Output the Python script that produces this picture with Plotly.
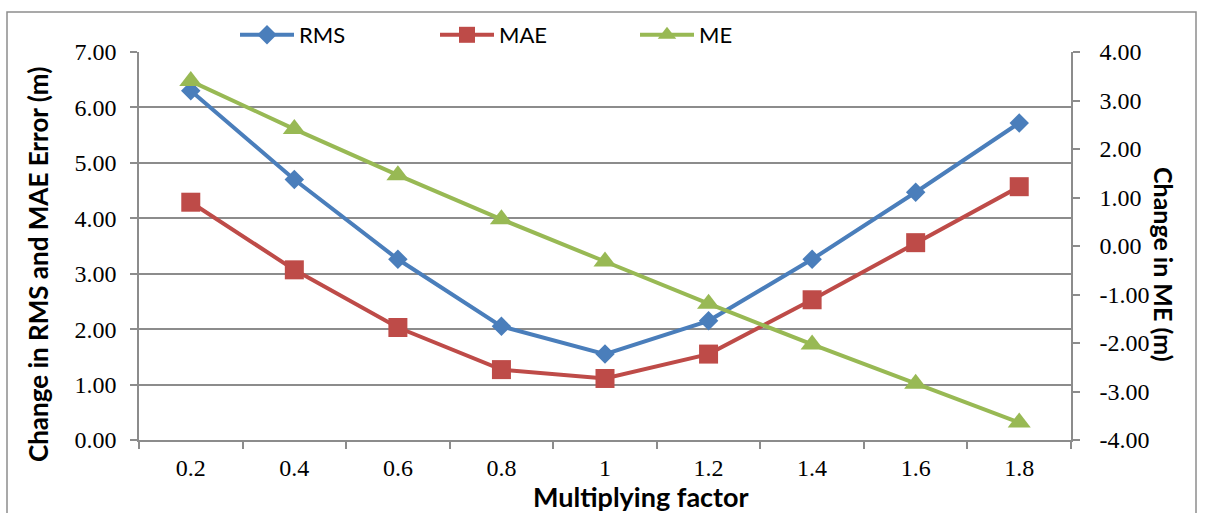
import plotly.graph_objects as go

# Multiplying factor applied to the input, and the resulting error changes
factors = ["0.2", "0.4", "0.6", "0.8", "1", "1.2", "1.4", "1.6", "1.8"]
rms = [6.30, 4.70, 3.26, 2.05, 1.55, 2.15, 3.26, 4.47, 5.72]
mae = [4.29, 3.07, 2.03, 1.27, 1.11, 1.55, 2.53, 3.56, 4.57]
me = [3.40, 2.41, 1.46, 0.55, -0.32, -1.19, -2.03, -2.84, -3.64]

left_ticks = [0, 1, 2, 3, 4, 5, 6, 7]
right_ticks = [-4, -3, -2, -1, 0, 1, 2, 3, 4]

BLUE = "#4A7EBB"
RED = "#BE4B48"
GREEN = "#98B954"
GRID = "#8C8C8C"

W, H = 1208, 513
ML, MR, MT, MB = 139, 137, 52, 73

fig = go.Figure()
fig.add_trace(go.Scatter(
    x=factors, y=rms, name="RMS", mode="lines+markers",
    line=dict(color=BLUE, width=4),
    marker=dict(symbol="diamond", size=15, color=BLUE),
))
fig.add_trace(go.Scatter(
    x=factors, y=mae, name="MAE", mode="lines+markers",
    line=dict(color=RED, width=4),
    marker=dict(symbol="square", size=19, color=RED),
))
fig.add_trace(go.Scatter(
    x=factors, y=me, name="ME", mode="lines+markers", yaxis="y2",
    line=dict(color=GREEN, width=4),
    marker=dict(symbol="triangle-up", size=20, color=GREEN),
))

tick_font = dict(family="Liberation Serif", size=24, color="#000000")
title_font = dict(family="Lato", size=26, color="#000000")

fig.update_layout(
    width=W, height=H,
    margin=dict(l=ML, r=MR, t=MT, b=MB, pad=0),
    paper_bgcolor="white", plot_bgcolor="white",
    showlegend=True,
    legend=dict(
        orientation="h", x=(235 - ML) / (W - ML - MR), xanchor="left",
        y=(H - MB - 35) / (H - MT - MB), yanchor="middle",
        font=dict(family="Lato", size=22, color="#000000"),
        itemwidth=54, entrywidth=131, entrywidthmode="pixels",
        bgcolor="rgba(0,0,0,0)",
    ),
    xaxis=dict(
        type="category", range=[-0.5, 8.5], tickson="boundaries",
        showgrid=False, showline=True, linecolor=GRID, linewidth=1.5,
        ticks="outside", ticklen=7, tickcolor=GRID, tickwidth=1.5,
        tickfont=tick_font, ticklabelstandoff=5, zeroline=False,
    ),
    yaxis=dict(
        range=[0, 7], tickvals=left_ticks,
        ticktext=[f"{v:.2f}" for v in left_ticks],
        showgrid=True, gridcolor=GRID, gridwidth=1.5,
        showline=True, linecolor=GRID, linewidth=1.5,
        ticks="outside", ticklen=7, tickcolor=GRID, tickwidth=1.5,
        tickfont=tick_font, ticklabelstandoff=9, zeroline=False,
    ),
    yaxis2=dict(
        range=[-4, 4], overlaying="y", side="right", tickvals=right_ticks,
        ticktext=[f"{v:.2f}" for v in right_ticks],
        showgrid=False, showline=True, linecolor=GRID, linewidth=1.5,
        ticks="outside", ticklen=7, tickcolor=GRID, tickwidth=1.5,
        tickfont=tick_font, ticklabelstandoff=15, zeroline=False,
    ),
)

pw, ph = W - ML - MR, H - MT - MB


def px_x(x):
    return (x - ML) / pw


def px_y(y):
    return (H - MB - y) / ph


# Axis titles
fig.add_annotation(
    text="<b>Change in RMS and MAE Error (m)</b>", textangle=-90,
    xref="paper", yref="paper", x=px_x(38), y=px_y(265),
    xanchor="center", yanchor="middle", showarrow=False, font=title_font,
)
fig.add_annotation(
    text="<b>Change in ME (m)</b>", textangle=90,
    xref="paper", yref="paper", x=px_x(1164), y=px_y(264),
    xanchor="center", yanchor="middle", showarrow=False,
    font=dict(family="Lato", size=25, color="#000000"),
)
fig.add_annotation(
    text="<b>Multiplying factor</b>",
    xref="paper", yref="paper", x=px_x(641), y=px_y(497),
    xanchor="center", yanchor="middle", showarrow=False,
    font=dict(family="Lato", size=27, color="#000000"),
)

# Chart area border
fig.add_shape(
    type="rect", xref="paper", yref="paper",
    x0=px_x(7), x1=px_x(1196), y0=px_y(530), y1=px_y(12),
    line=dict(color="#8D8D8D", width=1.5), fillcolor="rgba(0,0,0,0)",
    layer="below",
)

fig.write_html("out.html")
